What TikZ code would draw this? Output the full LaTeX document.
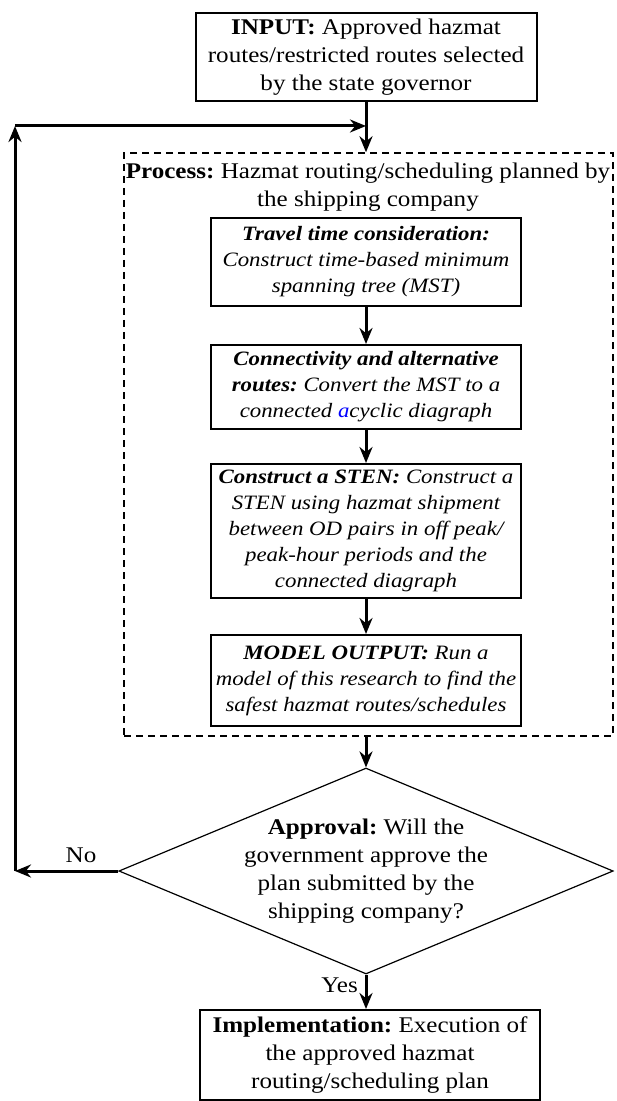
\documentclass[tikz,border=0pt]{standalone}
\usepackage{fontspec}
\setmainfont{Liberation Serif}[FakeStretch=1.12]
\usepackage{xcolor}
\usetikzlibrary{shapes.geometric,arrows.meta,positioning,fit}
\frenchspacing

\begin{document}
\begin{tikzpicture}[
    x=0.5pt, y=-0.5pt,
    node distance=17.5pt,
    textbox/.style={rectangle, draw, line width=1pt, align=center, inner sep=0pt, font=\fontsize{11.2}{14}\selectfont},
    stepbox/.style={rectangle, draw, line width=1pt, align=center, inner sep=0pt, minimum width=155pt, font=\fontsize{10.2}{13}\selectfont\itshape},
    processbox/.style={rectangle, draw, dash pattern=on 3.5pt off 2.5pt, line width=0.75pt, inner sep=0pt},
    decision/.style={diamond, draw, line width=0.6pt, align=center, aspect=2.4, inner sep=0pt, minimum width=244.5pt, minimum height=101.5pt, font=\fontsize{11.2}{14}\selectfont},
    arrow/.style={line width=1.5pt, -{Stealth[length=8pt,width=6.5pt]}},
    lbl/.style={font=\fontsize{11.2}{14}\selectfont}
]
    \useasboundingbox (0,0) rectangle (616,1101);

    \node[textbox, minimum width=170.5pt, minimum height=44pt] (input) at (366,57) {\textbf{INPUT:} Approved hazmat\\routes/restricted routes selected\\by the state governor};

    % dashed process frame
    \node[processbox, minimum width=244.5pt, minimum height=291.5pt] (process) at (368.5,444.5) {};
    \node[lbl, align=center] (ptitle) at (368,187) {\textbf{Process:} Hazmat routing/scheduling planned by\\the shipping company};

    \node[stepbox, minimum height=44pt] (travel) at (366,262) {\textbf{Travel time consideration:}\\Construct time-based minimum\\spanning tree (MST)};
    \node[stepbox, minimum height=42pt, below=18.5pt of travel] (conn) {\textbf{Connectivity and alternative}\\\textbf{routes:} Convert the MST to a\\connected \textcolor{blue}{a}cyclic diagraph};
    \node[stepbox, minimum height=67pt, below=16.5pt of conn] (sten) {\textbf{Construct a STEN:} Construct a\\STEN using hazmat shipment\\between OD pairs in off peak/\\peak-hour periods and the\\connected diagraph};
    \node[stepbox, minimum height=45.5pt, below=17.5pt of sten] (model) {\textbf{MODEL OUTPUT:} Run a\\model of this research to find the\\safest hazmat routes/schedules};

    \node[decision] (approval) at (366,871) {\textbf{Approval:} Will the\\government approve the\\plan submitted by the\\shipping company?};
    \node[textbox, minimum width=170pt, minimum height=45pt] (impl) at (370,1055) {\textbf{Implementation:} Execution of\\the approved hazmat\\routing/scheduling plan};

    \coordinate (junct) at (366,126);
    \coordinate (topleft) at (15,126);
    \coordinate (botleft) at (15,871);

    \draw[arrow] (input) -- (input.south |- process.north);
    \draw[arrow] (topleft) -- (junct);
    \draw[arrow] (travel) -- (conn);
    \draw[arrow] (conn) -- (sten);
    \draw[arrow] (sten) -- (model);
    \draw[arrow] (approval.north |- process.south) -- (approval.north);
    \draw[arrow] (approval.west) -- node[lbl, above, pos=0.36] {No} (botleft);
    \draw[arrow] (botleft) -- (topleft);
    \draw[arrow] (approval.south) -- node[lbl, left, pos=0.3] {Yes} (approval.south |- impl.north);
\end{tikzpicture}
\end{document}
